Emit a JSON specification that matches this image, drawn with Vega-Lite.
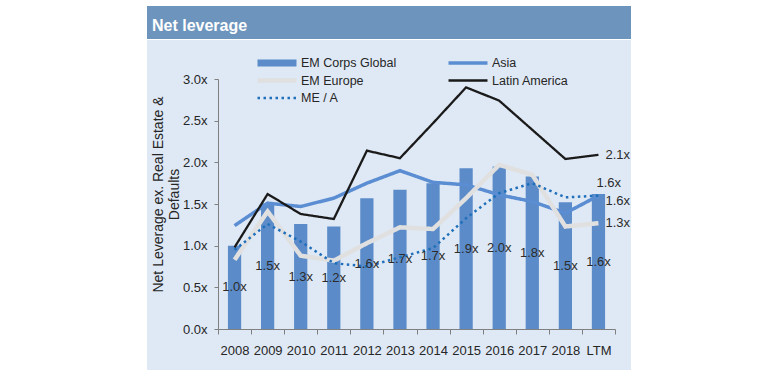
{
  "$schema": "https://vega.github.io/schema/vega-lite/v6.json",
  "padding": {"left": 147, "top": 6, "right": 149, "bottom": 10},
  "autosize": {"type": "pad"},
  "background": "white",
  "spacing": 1,
  "config": {"view": {"stroke": null}, "font": "Liberation Sans"},
  "datasets": {
    "bars": [
      {"year": "2008", "value": 1.0, "label": "1.0x"},
      {"year": "2009", "value": 1.51, "label": "1.5x"},
      {"year": "2010", "value": 1.26, "label": "1.3x"},
      {"year": "2011", "value": 1.23, "label": "1.2x"},
      {"year": "2012", "value": 1.57, "label": "1.6x"},
      {"year": "2013", "value": 1.67, "label": "1.7x"},
      {"year": "2014", "value": 1.75, "label": "1.7x"},
      {"year": "2015", "value": 1.93, "label": "1.9x"},
      {"year": "2016", "value": 1.95, "label": "2.0x"},
      {"year": "2017", "value": 1.83, "label": "1.8x"},
      {"year": "2018", "value": 1.52, "label": "1.5x"},
      {"year": "LTM", "value": 1.62, "label": "1.6x"}
    ],
    "lines": [
      {"series": "Asia", "year": "2008", "value": 1.24},
      {"series": "Asia", "year": "2009", "value": 1.51},
      {"series": "Asia", "year": "2010", "value": 1.47},
      {"series": "Asia", "year": "2011", "value": 1.57},
      {"series": "Asia", "year": "2012", "value": 1.75},
      {"series": "Asia", "year": "2013", "value": 1.9},
      {"series": "Asia", "year": "2014", "value": 1.76},
      {"series": "Asia", "year": "2015", "value": 1.73},
      {"series": "Asia", "year": "2016", "value": 1.61},
      {"series": "Asia", "year": "2017", "value": 1.53},
      {"series": "Asia", "year": "2018", "value": 1.39},
      {"series": "Asia", "year": "LTM", "value": 1.6},
      {"series": "EM Europe", "year": "2008", "value": 0.83},
      {"series": "EM Europe", "year": "2009", "value": 1.41},
      {"series": "EM Europe", "year": "2010", "value": 0.88},
      {"series": "EM Europe", "year": "2011", "value": 0.82},
      {"series": "EM Europe", "year": "2012", "value": 1.03},
      {"series": "EM Europe", "year": "2013", "value": 1.22},
      {"series": "EM Europe", "year": "2014", "value": 1.2},
      {"series": "EM Europe", "year": "2015", "value": 1.57},
      {"series": "EM Europe", "year": "2016", "value": 1.97},
      {"series": "EM Europe", "year": "2017", "value": 1.85},
      {"series": "EM Europe", "year": "2018", "value": 1.23},
      {"series": "EM Europe", "year": "LTM", "value": 1.27},
      {"series": "ME / A", "year": "2008", "value": 0.95},
      {"series": "ME / A", "year": "2009", "value": 1.26},
      {"series": "ME / A", "year": "2010", "value": 1.05},
      {"series": "ME / A", "year": "2011", "value": 0.79},
      {"series": "ME / A", "year": "2012", "value": 0.75},
      {"series": "ME / A", "year": "2013", "value": 0.86},
      {"series": "ME / A", "year": "2014", "value": 0.97},
      {"series": "ME / A", "year": "2015", "value": 1.33},
      {"series": "ME / A", "year": "2016", "value": 1.63},
      {"series": "ME / A", "year": "2017", "value": 1.75},
      {"series": "ME / A", "year": "2018", "value": 1.58},
      {"series": "ME / A", "year": "LTM", "value": 1.6},
      {"series": "Latin America", "year": "2008", "value": 0.98},
      {"series": "Latin America", "year": "2009", "value": 1.62},
      {"series": "Latin America", "year": "2010", "value": 1.38},
      {"series": "Latin America", "year": "2011", "value": 1.32},
      {"series": "Latin America", "year": "2012", "value": 2.14},
      {"series": "Latin America", "year": "2013", "value": 2.05},
      {"series": "Latin America", "year": "2014", "value": 2.47},
      {"series": "Latin America", "year": "2015", "value": 2.9},
      {"series": "Latin America", "year": "2016", "value": 2.74},
      {"series": "Latin America", "year": "2017", "value": 2.39},
      {"series": "Latin America", "year": "2018", "value": 2.04},
      {"series": "Latin America", "year": "LTM", "value": 2.09}
    ],
    "ends": [
      {"series": "Latin America", "year": "LTM", "value": 2.09, "label": "2.1x"},
      {"series": "EM Europe", "year": "LTM", "value": 1.27, "label": "1.3x"},
      {"series": "Asia", "year": "LTM", "value": 1.6, "label": "1.6x"},
      {"series": "ME / A", "year": "LTM", "value": 1.6, "label": "1.6x"}
    ]
  },
  "vconcat": [
    {
      "width": 484,
      "height": 33,
      "data": {"values": [{}]},
      "mark": {"type": "rect", "color": "#6d94bc"},
      "title": {
        "text": "Net leverage",
        "anchor": "start",
        "frame": "group",
        "orient": "top",
        "offset": -41,
        "baseline": "alphabetic",
        "dx": 5,
        "color": "white",
        "fontSize": 16,
        "fontWeight": "bold",
        "font": "Liberation Sans"
      }
    },
    {
      "width": 484,
      "height": 330,
      "view": {"fill": "#dfe9f5", "stroke": null},
      "resolve": {"scale": {"y": "independent"}},
      "layer": [
        {
          "data": {"name": "bars"},
          "mark": {"type": "bar", "color": "#5b8bc8", "width": {"band": 0.4}},
          "encoding": {
            "x": {
              "field": "year",
              "type": "nominal",
              "scale": {
                "domain": ["2008", "2009", "2010", "2011", "2012", "2013", "2014", "2015", "2016", "2017", "2018", "LTM"],
                "range": [71, 468],
                "paddingInner": 0,
                "paddingOuter": 0
              },
              "axis": {
                "title": null,
                "offset": -41,
                "tickBand": "extent",
                "tickSize": 5,
                "tickColor": "#808080",
                "domainColor": "#808080",
                "labelAngle": 0,
                "labelPadding": 10,
                "labelFont": "Liberation Sans",
                "labelFontSize": 13,
                "labelColor": "#262626"
              }
            },
            "y": {
              "field": "value",
              "type": "quantitative",
              "scale": {"domain": [0, 3], "range": [289, 39], "nice": false},
              "axis": {
                "offset": -71,
                "values": [0, 0.5, 1, 1.5, 2, 2.5, 3],
                "labelExpr": "format(datum.value, '.1f') + 'x'",
                "grid": false,
                "tickSize": 4,
                "tickColor": "#808080",
                "domainColor": "#808080",
                "labelPadding": 7,
                "labelFont": "Liberation Sans",
                "labelFontSize": 13,
                "labelColor": "#262626",
                "title": ["Net Leverage ex. Real Estate &", "Defaults"],
                "titleFont": "Liberation Sans",
                "titleFontSize": 14,
                "titleFontWeight": "normal",
                "titleColor": "#262626",
                "titleAngle": -90,
                "titleX": -67,
                "titleY": 154,
                "titleBaseline": "top",
                "titleAlign": "center",
                "titleLineHeight": 16
              }
            }
          }
        },
        {
          "data": {"name": "lines"},
          "mark": {"type": "line"},
          "encoding": {
            "x": {"field": "year", "type": "nominal"},
            "y": {
              "field": "value",
              "type": "quantitative",
              "scale": {"domain": [0, 3], "range": [289, 39], "nice": false},
              "axis": null
            },
            "color": {
              "field": "series",
              "type": "nominal",
              "scale": {
                "domain": ["EM Corps Global", "EM Europe", "ME / A", "Asia", "Latin America"],
                "range": ["#5b8bc8", "#e0e0e0", "#1f6fba", "#5b8dd2", "#1a1a1a"]
              },
              "legend": {
                "orient": "none",
                "legendX": 107,
                "legendY": 48.5,
                "title": null,
                "columns": 2,
                "columnPadding": 48,
                "rowPadding": 0.5,
                "symbolType": "stroke",
                "symbolSize": 1521,
                "clipHeight": 17,
                "labelFont": "Liberation Sans",
                "labelFontSize": 12.5,
                "labelColor": "#262626",
                "labelOffset": 1,
                "labelLimit": 200,
                "padding": 0
              }
            },
            "strokeDash": {
              "field": "series",
              "type": "nominal",
              "scale": {
                "domain": ["EM Corps Global", "EM Europe", "ME / A", "Asia", "Latin America"],
                "range": [[1, 0], [1, 0], [2.5, 3.5], [1, 0], [1, 0]]
              },
              "legend": {
                "orient": "none",
                "legendX": 107,
                "legendY": 48.5,
                "title": null,
                "columns": 2,
                "columnPadding": 48,
                "rowPadding": 0.5,
                "symbolType": "stroke",
                "symbolSize": 1521,
                "clipHeight": 17,
                "labelFont": "Liberation Sans",
                "labelFontSize": 12.5,
                "labelColor": "#262626",
                "labelOffset": 1,
                "labelLimit": 200,
                "padding": 0
              }
            },
            "strokeWidth": {
              "field": "series",
              "type": "nominal",
              "scale": {
                "type": "ordinal",
                "domain": ["EM Corps Global", "EM Europe", "ME / A", "Asia", "Latin America"],
                "range": [7, 4.5, 2.5, 3.5, 2.3]
              },
              "legend": {
                "orient": "none",
                "legendX": 107,
                "legendY": 48.5,
                "title": null,
                "columns": 2,
                "columnPadding": 48,
                "rowPadding": 0.5,
                "symbolType": "stroke",
                "symbolSize": 1521,
                "clipHeight": 17,
                "labelFont": "Liberation Sans",
                "labelFontSize": 12.5,
                "labelColor": "#262626",
                "labelOffset": 1,
                "labelLimit": 200,
                "padding": 0
              }
            }
          }
        },
        {
          "data": {"name": "bars"},
          "mark": {"type": "text", "font": "Liberation Sans", "fontSize": 13, "color": "#2b2b2b"},
          "encoding": {
            "x": {"field": "year", "type": "nominal"},
            "y": {
              "field": "value",
              "type": "quantitative",
              "scale": {"domain": [0, 6], "range": [289, 39], "nice": false},
              "axis": null
            },
            "text": {"field": "label"}
          }
        },
        {
          "data": {"name": "ends"},
          "transform": [{"filter": "datum.series == 'Latin America' || datum.series == 'EM Europe'"}],
          "mark": {"type": "text", "font": "Liberation Sans", "fontSize": 13, "color": "#2b2b2b", "align": "left", "dx": 7},
          "encoding": {
            "x": {"field": "year", "type": "nominal"},
            "y": {
              "field": "value",
              "type": "quantitative",
              "scale": {"domain": [0, 3], "range": [289, 39], "nice": false},
              "axis": null
            },
            "text": {"field": "label"}
          }
        },
        {
          "data": {"name": "ends"},
          "transform": [{"filter": "datum.series == 'Asia'"}],
          "mark": {"type": "text", "font": "Liberation Sans", "fontSize": 13, "color": "#2b2b2b", "align": "left", "dx": 7, "dy": 5},
          "encoding": {
            "x": {"field": "year", "type": "nominal"},
            "y": {
              "field": "value",
              "type": "quantitative",
              "scale": {"domain": [0, 3], "range": [289, 39], "nice": false},
              "axis": null
            },
            "text": {"field": "label"}
          }
        },
        {
          "data": {"name": "ends"},
          "transform": [{"filter": "datum.series == 'ME / A'"}],
          "mark": {"type": "text", "font": "Liberation Sans", "fontSize": 13, "color": "#2b2b2b", "align": "left", "dx": -2, "dy": -13},
          "encoding": {
            "x": {"field": "year", "type": "nominal"},
            "y": {
              "field": "value",
              "type": "quantitative",
              "scale": {"domain": [0, 3], "range": [289, 39], "nice": false},
              "axis": null
            },
            "text": {"field": "label"}
          }
        }
      ]
    }
  ]
}
